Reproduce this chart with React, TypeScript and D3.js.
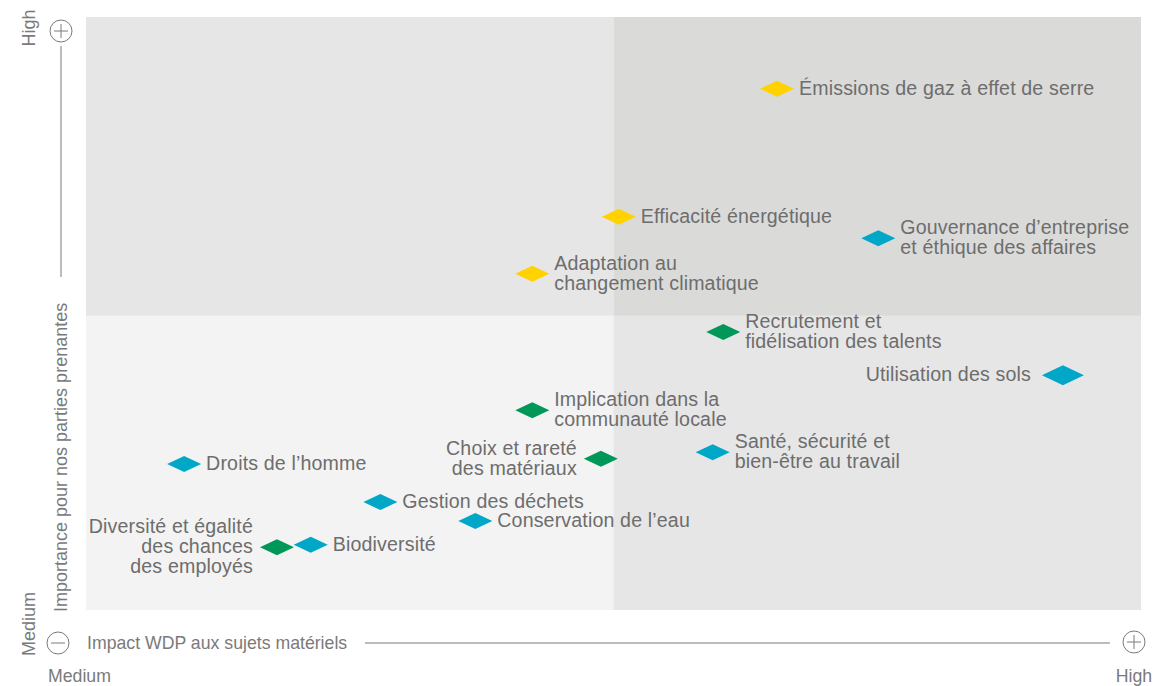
import React from "react";
import * as d3 from "d3";

// materiality matrix data (0-10 both axes)
const topics = [
  "Émissions de gaz à effet de serre",
  "Efficacité énergétique",
  "Gouvernance d’entreprise\net éthique des affaires",
  "Adaptation au\nchangement climatique",
  "Recrutement et\nfidélisation des talents",
  "Utilisation des sols",
  "Implication dans la\ncommunauté locale",
  "Choix et rareté\ndes matériaux",
  "Santé, sécurité et\nbien-être au travail",
  "Droits de l’homme",
  "Gestion des déchets",
  "Conservation de l’eau",
  "Diversité et égalité\ndes chances\ndes employés",
  "Biodiversité",
];
const impact = [6.55, 5.05, 7.51, 4.23, 6.04, 9.26, 4.23, 4.88, 5.94, 0.93, 2.79, 3.69, 1.81, 2.13];
const importance = [8.79, 6.63, 6.27, 5.67, 4.69, 3.96, 3.37, 2.55, 2.66, 2.46, 1.82, 1.5, 1.06, 1.1];
const groups = ["env", "env", "gov", "env", "soc", "gov", "soc", "soc", "gov", "gov", "gov", "gov", "soc", "gov"];
const labelSide = ["r", "r", "r", "r", "r", "l", "r", "l", "r", "r", "r", "r", "l", "r"];
const big = [false, false, false, false, false, true, false, false, false, false, false, false, false, false];

// quadrant boundaries
const impactSplit = 5;
const importanceSplit = 4.96;

const groupColor: Record<string, string> = {
  env: "#ffd200",
  gov: "#00a7c7",
  soc: "#009759",
};

const W = 1171;
const H = 686;
const left = 86, right = 1141, top = 17, bottom = 610;

const textCol = "#6d6d6d";
const axisCol = "#7a7a7a";
const font = "'Liberation Sans', Arial, Helvetica, sans-serif";

const PlusMinus = ({ cx, cy, plus }: { cx: number; cy: number; plus: boolean }) => (
  <g stroke={axisCol} strokeWidth={1} fill="none">
    <circle cx={cx} cy={cy} r={11} />
    <line x1={cx - 7} x2={cx + 7} y1={cy} y2={cy} />
    {plus && <line x1={cx} x2={cx} y1={cy - 7} y2={cy + 7} />}
  </g>
);

export default function App() {
  const x = d3.scaleLinear().domain([0, 10]).range([left, right]);
  const y = d3.scaleLinear().domain([0, 10]).range([bottom, top]);

  const quads = [
    { x0: 0, x1: impactSplit, y0: importanceSplit, y1: 10, fill: "#e6e6e6" },
    { x0: impactSplit, x1: 10, y0: importanceSplit, y1: 10, fill: "#dadad9" },
    { x0: 0, x1: impactSplit, y0: 0, y1: importanceSplit, fill: "#f3f3f3" },
    { x0: impactSplit, x1: 10, y0: 0, y1: importanceSplit, fill: "#e6e6e6" },
  ];

  const lineH = 20;

  return (
    <>
      <style>{`body{margin:0}`}</style>
      <svg width={W} height={H} style={{ display: "block", fontFamily: font }}>
        {quads.map((q, i) => (
          <rect
            key={i}
            x={x(q.x0)}
            y={y(q.y1)}
            width={x(q.x1) - x(q.x0)}
            height={y(q.y0) - y(q.y1)}
            fill={q.fill}
          />
        ))}

        {topics.map((t, i) => {
          const cx = x(impact[i]);
          const cy = y(importance[i]);
          const hw = big[i] ? 21 : 17;
          const hh = big[i] ? 10 : 8;
          const lines = t.split("\n");
          const onLeft = labelSide[i] === "l";
          const tx = onLeft ? cx - hw - (big[i] ? 11 : 7) : cx + hw + 5;
          const startY = cy - ((lines.length - 1) * lineH) / 2 - 1;
          return (
            <g key={i}>
              <path
                d={`M${cx - hw},${cy}L${cx},${cy - hh}L${cx + hw},${cy}L${cx},${cy + hh}Z`}
                fill={groupColor[groups[i]]}
              />
              <text
                fill={textCol}
                fontSize={19.6}
                letterSpacing={0.15}
                textAnchor={onLeft ? "end" : "start"}
                dominantBaseline="central"
              >
                {lines.map((l, j) => (
                  <tspan key={j} x={tx} y={startY + j * lineH}>
                    {l}
                  </tspan>
                ))}
              </text>
            </g>
          );
        })}

        {/* vertical axis */}
        <PlusMinus cx={61} cy={31} plus={true} />
        <line x1={61} x2={61} y1={46} y2={277} stroke={axisCol} strokeWidth={1} />
        <text transform="translate(67,612) rotate(-90)" fill={axisCol} fontSize={18}>
          Importance pour nos parties prenantes
        </text>
        <text transform="translate(35,28) rotate(-90)" fill={axisCol} fontSize={18} textAnchor="middle">
          High
        </text>
        <text transform="translate(35,624) rotate(-90)" fill={axisCol} fontSize={18} textAnchor="middle">
          Medium
        </text>

        {/* horizontal axis */}
        <PlusMinus cx={58} cy={643} plus={false} />
        <text x={87} y={649} fill={axisCol} fontSize={17.7}>
          Impact WDP aux sujets matériels
        </text>
        <line x1={365} x2={1110} y1={643} y2={643} stroke={axisCol} strokeWidth={1} />
        <PlusMinus cx={1134} cy={642} plus={true} />
        <text x={48} y={682} fill={axisCol} fontSize={17.7}>
          Medium
        </text>
        <text x={1134} y={682} fill={axisCol} fontSize={17.7} textAnchor="middle">
          High
        </text>
      </svg>
    </>
  );
}
